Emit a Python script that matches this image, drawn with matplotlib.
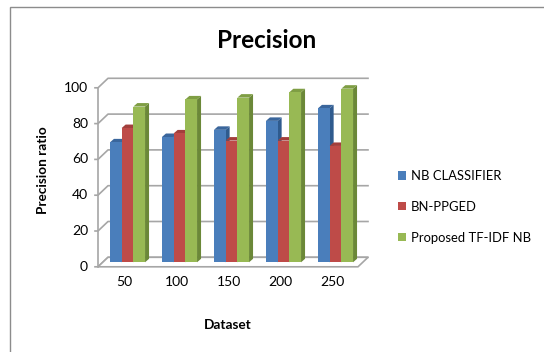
import numpy as np
import matplotlib.pyplot as plt
from matplotlib.patches import Polygon, Rectangle, Patch

# data
datasets = ['50', '100', '150', '200', '250']
nb_classifier = [67, 70, 74, 79, 86]
bn_ppged = [75, 72, 68, 68, 65]
tfidf_nb = [87, 91, 92, 95, 97]
series_names = ['NB CLASSIFIER', 'BN-PPGED', 'Proposed TF-IDF NB']
y_ticks = [0, 20, 40, 60, 80, 100]

front_colors = ['#4a7ebb', '#be4b48', '#98b954']
side_colors = ['#2f5b8e', '#8c3431', '#6b8838']
top_colors = ['#3a669c', '#a23f3c', '#7f9e44']
grid_col = '#a6a6a6'

plt.rcParams['font.family'] = ['Lato', 'DejaVu Sans']

W, H = 544, 352
fig = plt.figure(figsize=(W / 100, H / 100), dpi=100)
ax = fig.add_axes([103 / W, 1 - 262.3 / H, 260 / W, 179 / H])
x0, x1 = -0.471, 4.529
ax.set_xlim(x0, x1)
ax.set_ylim(0, 100)
ax.axis('off')

# pixel -> data units, used for the fake 3D depth
PX = 1 / 52.0
PY = 100 / 179.0

# back wall gridlines + left wall diagonals
xf = x0 - 5 * PX
for v in y_ticks:
    yf = v - 4.5 * PY
    yb = v + 5 * PY
    ax.plot([xf - 3 * PX, xf, x0 + 5 * PX, x1 + 5 * PX], [yf, yf, yb, yb],
            color=grid_col, lw=1.2, clip_on=False, zorder=1)
    ax.text(xf - 10 * PX, yf, str(v), ha='right', va='center', fontsize=10)
ax.plot([xf, xf], [-4.5 * PY, 100 - 4.5 * PY], color=grid_col, lw=1.2,
        clip_on=False, zorder=1)

# floor
floor = Polygon([(xf, -4.5 * PY), (x1 - 5 * PX, -4.5 * PY),
                 (x1 + 5 * PX, 5 * PY), (x0 + 5 * PX, 5 * PY)],
                closed=True, fc='white', ec=grid_col, lw=1.2,
                clip_on=False, zorder=1.5)
ax.add_patch(floor)

# bars with side and top faces
w = 0.225
dx, dy = 4 * PX, 3.5 * PY
x = np.arange(len(datasets))
for k, vals in enumerate([nb_classifier, bn_ppged, tfidf_nb]):
    left = x + (k - 1) * w - w / 2
    ax.bar(left, vals, width=w, align='edge', color=front_colors[k],
           lw=0, zorder=2.02 + k * 0.1, clip_on=False)
    for xl, v in zip(left, vals):
        xr = xl + w
        side = Polygon([(xr, 0), (xr + dx, dy), (xr + dx, v + dy), (xr, v)],
                       closed=True, fc=side_colors[k], lw=0,
                       zorder=2 + k * 0.1, clip_on=False)
        top = Polygon([(xl, v), (xr, v), (xr + dx, v + dy), (xl + dx, v + dy)],
                      closed=True, fc=top_colors[k], lw=0,
                      zorder=2.01 + k * 0.1, clip_on=False)
        ax.add_patch(side)
        ax.add_patch(top)

# category labels
for i, lab in enumerate(datasets):
    ax.text(i - 3 * PX, -20 * PY, lab, ha='center', va='center', fontsize=10)

fig.text(266.5 / W, 1 - 40 / H, 'Precision', ha='center', va='center',
         fontsize=17.5, fontweight='bold')
fig.text(43 / W, 1 - 170 / H, 'Precision ratio', ha='center', va='center',
         rotation=90, fontsize=9.8, fontweight='bold')
fig.text(228 / W, 1 - 325 / H, 'Dataset', ha='center', va='center',
         fontsize=9.8, fontweight='bold')

handles = [Patch(fc=c, ec='none') for c in front_colors]
fig.legend(handles, series_names, loc='upper left',
           bbox_to_anchor=(398 / W, 1 - 170 / H), frameon=False, fontsize=9.4,
           handlelength=0.6, handleheight=0.6, handletextpad=0.4,
           labelspacing=1.45, borderpad=0, borderaxespad=0)

# chart border
fig.patches.append(Rectangle((10 / W, -0.1), 1.2, 1.1 - 7 / H, fill=False,
                             ec='#8c8c8c', lw=1, transform=fig.transFigure))

fig.savefig('out.png', dpi=100)
